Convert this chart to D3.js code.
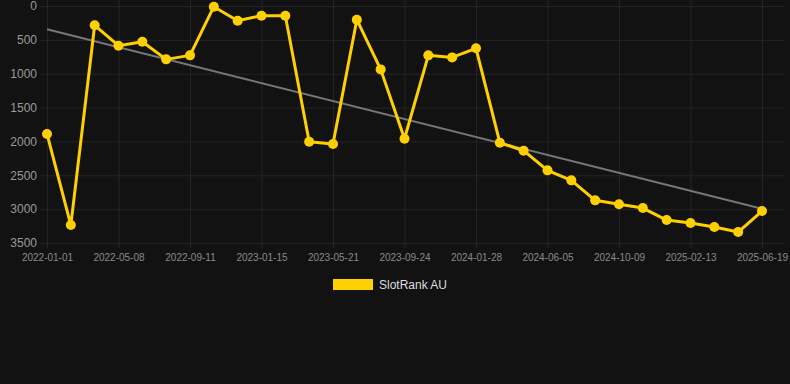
<!DOCTYPE html>
<html>
<head>
<meta charset="utf-8">
<script src="https://cdn.jsdelivr.net/npm/d3@7"></script>
<style>
  html, body { margin: 0; padding: 0; background: #121212; }
  svg { display: block; font-family: "Liberation Sans", Arial, sans-serif; }
</style>
</head>
<body>
<div id="plot"></div>
<script>
// data
const dates = [
  '2022-01-01', '2022-02-13', '2022-03-27', '2022-05-08', '2022-06-19', '2022-07-31',
  '2022-09-11', '2022-10-23', '2022-12-04', '2023-01-15', '2023-02-26', '2023-04-09',
  '2023-05-21', '2023-07-02', '2023-08-13', '2023-09-24', '2023-11-05', '2023-12-17',
  '2024-01-28', '2024-03-11', '2024-04-23', '2024-06-05', '2024-07-17', '2024-08-28',
  '2024-10-09', '2024-11-21', '2025-01-02', '2025-02-13', '2025-03-27', '2025-05-08',
  '2025-06-19'
]
const ranks = [
  1890, 3235, 285, 586, 527, 788, 729, 10, 217, 143, 143, 2004,
  2039, 202, 936, 1960, 729, 759, 625, 2019, 2137, 2427, 2575, 2870,
  2929, 2984, 3161, 3205, 3264, 3338, 3028
]
const yTicks = [0, 500, 1000, 1500, 2000, 2500, 3000, 3500]
const xTickLabels = dates.filter((d, i) => i % 3 === 0)
const seriesName = 'SlotRank AU'

const width = 790, height = 384
const margin = {top: 6, right: 28, bottom: 141, left: 47}
const yellow = '#ffd000'

const svg = d3.select('#plot').append('svg')
  .attr('width', width)
  .attr('height', height)

svg.append('rect').attr('width', width).attr('height', height).attr('fill', '#121212')

const x = d3.scalePoint()
  .domain(dates)
  .range([margin.left, width - margin.right])

const y = d3.scaleLinear()
  .domain([0, 3500])
  .range([margin.top, height - margin.bottom])

// horizontal grid + y labels
const yaxis = svg.append('g')
  .attr('transform', `translate(${margin.left},0)`)
  .call(d3.axisLeft(y).tickValues(yTicks).tickFormat(d3.format('d'))
    .tickSize(-(width - margin.left - 5)).tickPadding(10))
  .call(g => g.select('.domain').remove())
yaxis.selectAll('.tick line').attr('stroke', '#242424').attr('x1', -7)
yaxis.selectAll('.tick text').attr('fill', '#9a9a9a').attr('font-size', 12)

// vertical grid + x labels
const xaxis = svg.append('g')
  .attr('transform', `translate(0,${height - margin.bottom})`)
  .call(d3.axisBottom(x).tickValues(xTickLabels).tickSize(5).tickPadding(6))
  .call(g => g.select('.domain').remove())
xaxis.selectAll('.tick line')
  .attr('stroke', '#242424')
  .attr('y1', -(height - margin.bottom))
xaxis.selectAll('.tick text').attr('fill', '#8a8a8a').attr('font-size', 10)

// trend line (least squares)
const n = ranks.length
const mx = d3.mean(ranks, (d, i) => i)
const my = d3.mean(ranks)
const slope = d3.sum(ranks, (d, i) => (i - mx) * (d - my)) / d3.sum(ranks, (d, i) => (i - mx) ** 2)
const trend = [0, n - 1].map(i => [dates[i], my + slope * (i - mx)])
svg.append('path')
  .datum(trend)
  .attr('fill', 'none')
  .attr('stroke', '#777')
  .attr('stroke-width', 2)
  .attr('d', d3.line().x(d => x(d[0])).y(d => y(d[1])))

const data = dates.map((d, i) => [d, ranks[i]])
const line = d3.line().x(d => x(d[0])).y(d => y(d[1]))
svg.append('path')
  .datum(data)
  .attr('fill', 'none')
  .attr('stroke', yellow)
  .attr('stroke-width', 3)
  .attr('stroke-linejoin', 'round')
  .attr('d', line)

svg.append('g').selectAll('circle')
  .data(data)
  .join('circle')
  .attr('cx', d => x(d[0]))
  .attr('cy', d => y(d[1]))
  .attr('r', 5)
  .attr('fill', yellow)

// legend
const legend = svg.append('g').attr('transform', 'translate(333,279)')
legend.append('rect').attr('width', 40).attr('height', 11).attr('fill', yellow)
legend.append('text')
  .attr('x', 46).attr('y', 10)
  .attr('fill', '#dddddd')
  .attr('font-size', 12)
  .text(seriesName)
</script>
</body>
</html>
